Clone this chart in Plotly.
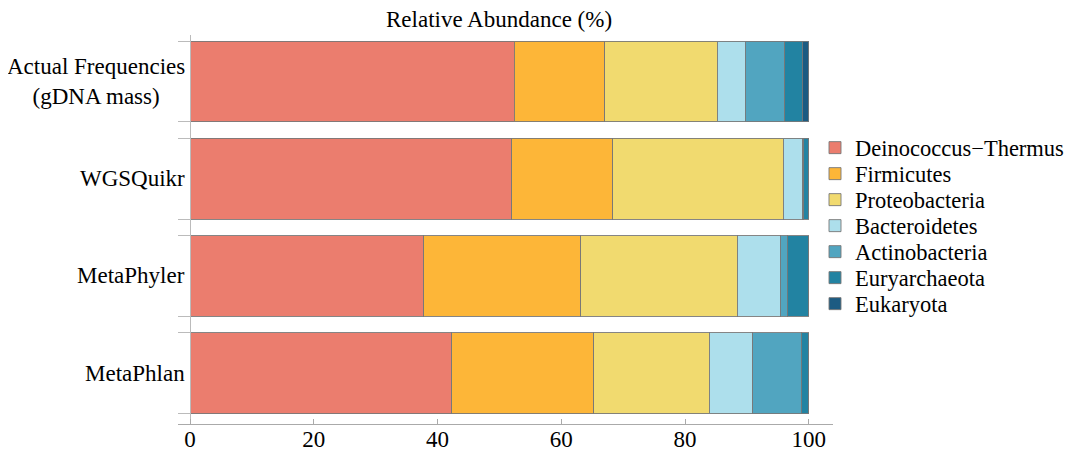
import plotly.graph_objects as go

categories = ["Actual Frequencies<br>(gDNA mass)", "WGSQuikr", "MetaPhyler", "MetaPhlan"]
phyla = ["Deinococcus\u2212Thermus", "Firmicutes", "Proteobacteria", "Bacteroidetes",
         "Actinobacteria", "Euryarchaeota", "Eukaryota"]
colors = ["#EB7D6E", "#FDB638", "#F1DA6F", "#ADDFEC", "#51A5C0", "#2283A2", "#1C5B82"]

deinococcus = [52.4, 52.0, 37.8, 42.3]
firmicutes = [14.6, 16.3, 25.3, 22.9]
proteobacteria = [18.2, 27.6, 25.3, 18.7]
bacteroidetes = [4.5, 3.1, 7.0, 7.0]
actinobacteria = [6.4, 0.2, 1.1, 7.9]
euryarchaeota = [2.8, 0.8, 3.5, 1.2]
eukaryota = [1.1, 0.0, 0.0, 0.0]

series = [deinococcus, firmicutes, proteobacteria, bacteroidetes,
          actinobacteria, euryarchaeota, eukaryota]
x_ticks = [0, 20, 40, 60, 80, 100]

bar_width = 0.83
pos = list(range(len(categories)))

FONT = "Liberation Serif"
OFF = 8  # page body margin of the browser
W, H = 1076, 451
# screen-space targets minus the page offset
ML = 178 - OFF
MR = W - (833 - OFF)
MT = 35 - OFF
MB = H - (424 - OFF)
xr = [-1.94, 103.9]
yr = [3.523, -0.477]

fig = go.Figure()
layout_legends = {}
leg_top = 148.0 - OFF   # pixel centre of first legend entry
leg_step = 26.0
for i, (name, vals, col) in enumerate(zip(phyla, series, colors)):
    lname = "legend" if i == 0 else f"legend{i + 1}"
    fig.add_trace(go.Bar(
        y=pos, x=vals, name=name, orientation="h", width=bar_width,
        marker=dict(color=col, line=dict(color="rgba(120,120,120,0.9)", width=1)),
        legend=lname,
    ))
    ypix = leg_top + i * leg_step
    layout_legends[lname] = dict(
        xref="container", yref="container",
        x=(815 - OFF) / W, xanchor="left",
        y=1 - ypix / H, yanchor="middle", font=dict(size=22.5, family=FONT),
        bgcolor="rgba(0,0,0,0)",
    )

edges = []
for p in pos:
    edges += [p - bar_width / 2, p + bar_width / 2]

yaxis_pos = (0 - xr[0]) / (xr[1] - xr[0])

fig.update_layout(
    barmode="stack",
    width=W, height=H,
    margin=dict(l=ML, r=MR, t=MT, b=MB, autoexpand=False),
    plot_bgcolor="white", paper_bgcolor="white",
    font=dict(family=FONT, size=23, color="black"),
    xaxis=dict(range=xr, tickvals=x_ticks, ticks="inside", ticklen=5,
               tickcolor="#aaaaaa", showline=True, linecolor="#aaaaaa", linewidth=1,
               showgrid=False, zeroline=False, tickfont=dict(size=23),
               ticklabelstandoff=-6, automargin=False, fixedrange=True),
    yaxis=dict(range=yr, tickvals=edges, ticktext=[""] * len(edges), ticks="outside",
               ticklen=12, tickcolor="#bbbbbb", showline=True, linecolor="#bbbbbb",
               showgrid=False, zeroline=False, automargin=False,
               anchor="free", position=yaxis_pos),
    showlegend=True,
    **layout_legends,
)

for p, c in zip(pos, categories):
    fig.add_annotation(x=0, xref="x", xanchor="right", xshift=-3,
                       y=p, yref="y", yanchor="middle", text=c, showarrow=False,
                       align="center", font=dict(size=23, family=FONT))

fig.add_annotation(x=50, xref="x", y=1, yref="paper", yanchor="bottom", yshift=1,
                   text="Relative Abundance (%)", showarrow=False,
                   font=dict(size=23, family=FONT))

fig.write_html("out.html", config={"displayModeBar": False})
